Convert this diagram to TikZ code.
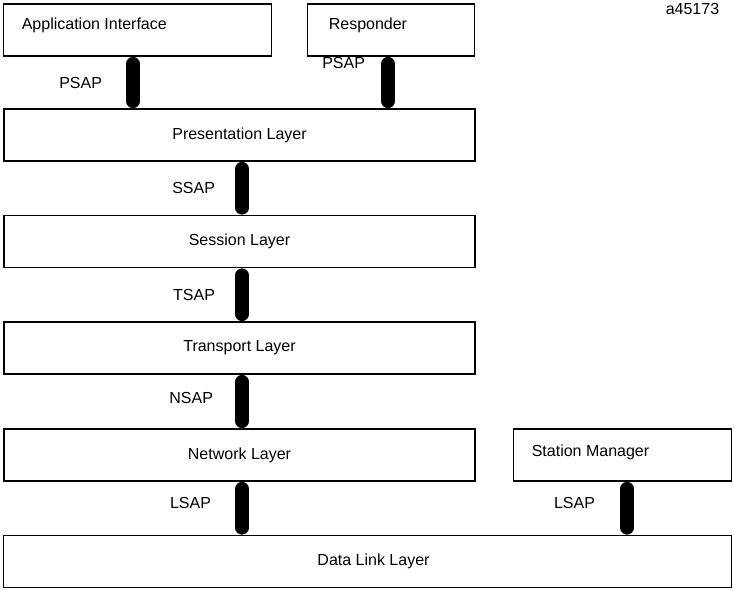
\documentclass[tikz,border=0pt]{standalone}
\usepackage{fontspec}
\setmainfont{Liberation Sans}
\usetikzlibrary{positioning}

\begin{document}
\begin{tikzpicture}[x=1pt,y=-1pt,font=\fontsize{16}{19}\selectfont,
    layer/.style={draw,line width=1.8pt,minimum height=52pt,inner sep=0pt},
    sap/.style={line width=14pt,line cap=round,shorten <=7pt,shorten >=7pt},
    sapname/.style={inner sep=0pt,outer sep=0pt}]
  \useasboundingbox (0,0) rectangle (734,591);
  % user boxes
  \node[layer,minimum width=268pt] (app) at (137.5,30) {};
  \node[anchor=west,inner sep=0pt] (appname) at ([shift={(19pt,5pt)}]app.west) {Application Interface};
  \node[layer,minimum width=167pt] (resp) at (391,30) {};
  \node[anchor=west,inner sep=0pt] (respname) at ([shift={(22pt,5pt)}]resp.west) {Responder};
  \node (fig) at (692.5,9) {a45173};
  % layer stack
  \node[layer,minimum width=471pt] (pres) at (239.5,135) {Presentation Layer};
  \node[layer,minimum width=471pt] (sess) at (239.5,241.5) {Session Layer};
  \node[layer,minimum width=471pt] (trans) at (239.5,348) {Transport Layer};
  \node[layer,minimum width=471pt] (net) at (239.5,455) {Network Layer};
  \node[layer,minimum width=218pt] (stat) at (622.5,455) {};
  \node[anchor=west,inner sep=0pt] (statname) at ([shift={(19pt,3pt)}]stat.west) {Station Manager};
  \node[layer,minimum width=728pt] (dll) at (367.5,561.5) {\hspace{12pt}Data Link Layer};
  % service access points
  \draw[sap] ([xshift=-4.5pt]app.south) -- node[sapname,left=31pt] {PSAP} ([xshift=-4.5pt]app.south |- pres.north);
  \draw[sap] ([xshift=-3pt]resp.south) -- node[sapname,left=23pt,yshift=20pt] {PSAP} ([xshift=-3pt]resp.south |- pres.north);
  \draw[sap] ([xshift=2.5pt]pres.south) -- node[sapname,left=27pt] {SSAP} ([xshift=2.5pt]sess.north);
  \draw[sap] ([xshift=2.5pt]sess.south) -- node[sapname,left=27pt] {TSAP} ([xshift=2.5pt]trans.north);
  \draw[sap] ([xshift=2.5pt]trans.south) -- node[sapname,left=29pt,yshift=4pt] {NSAP} ([xshift=2.5pt]net.north);
  \draw[sap] ([xshift=2.5pt]net.south) -- node[sapname,left=31pt,yshift=5pt] {LSAP} ([xshift=2.5pt]net.south |- dll.north);
  \draw[sap] ([xshift=4.5pt]stat.south) -- node[sapname,left=32pt,yshift=5pt] {LSAP} ([xshift=4.5pt]stat.south |- dll.north);
\end{tikzpicture}
\end{document}
